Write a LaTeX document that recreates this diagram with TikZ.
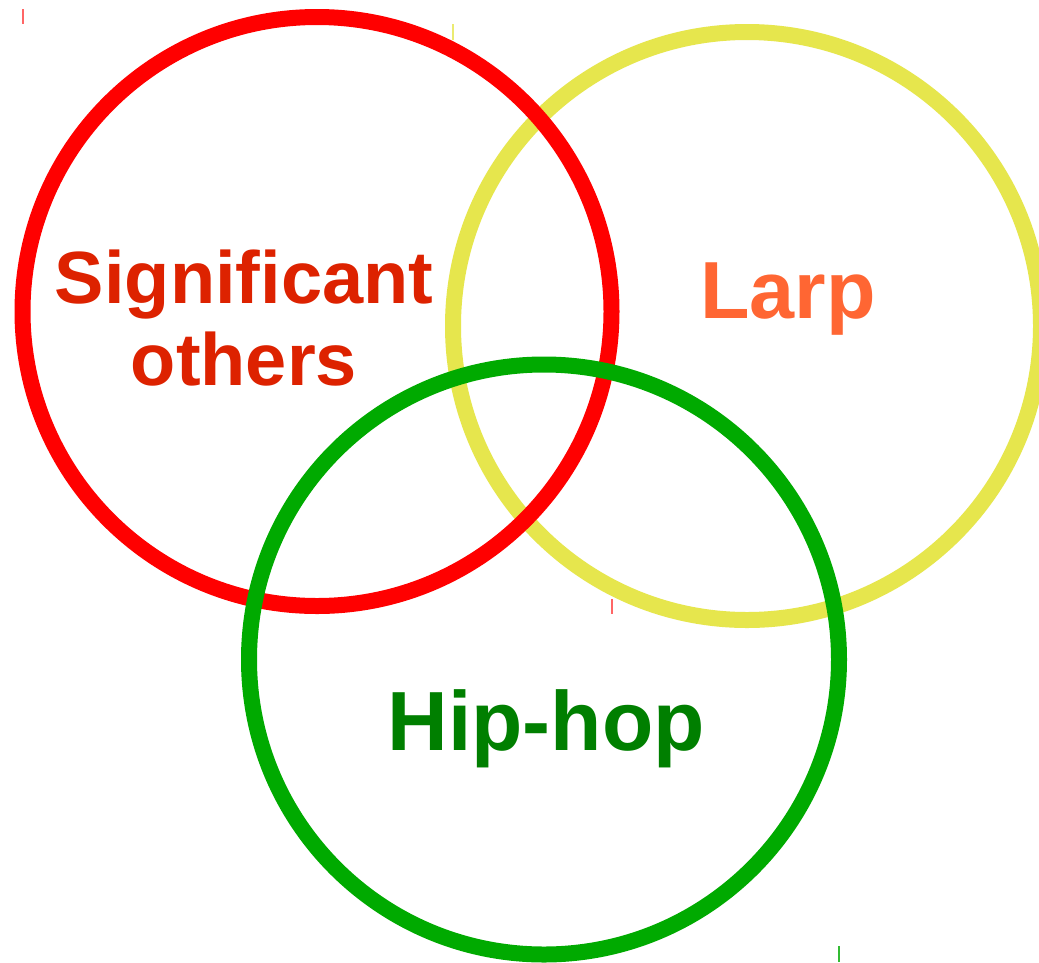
\documentclass[tikz,border=0pt]{standalone}
\usepackage{fontspec}
\setmainfont{Liberation Sans}
\definecolor{cred}{RGB}{255,0,0}
\definecolor{cyel}{RGB}{230,230,77}
\definecolor{cgrn}{RGB}{0,170,0}
\definecolor{tred}{RGB}{221,34,0}
\definecolor{tora}{RGB}{255,102,51}
\definecolor{tgrn}{RGB}{0,127,0}
\tikzset{
  ring/.style={line width=16pt},
  lbl/.style={inner sep=0pt, anchor=base, align=center},
  tick/.style={line width=2pt}
}
\begin{document}
\begin{tikzpicture}[x=1pt,y=-1pt]
\useasboundingbox (0,0) rectangle (1039,962);
\clip (0,0) rectangle (1039,962);
\fill[white] (0,0) rectangle (1039,962);
\draw[ring, cyel] (747,326) circle (294);
\draw[ring, cred] (317,311.5) circle (294.5);
\draw[ring, cgrn] (544,659.5) circle (295);
\draw[tick, cred!60] (23,9) -- (23,24);
\draw[tick, cyel!80] (453,24) -- (453,40);
\draw[tick, cred!60] (612,599) -- (612,614);
\draw[tick, cgrn!80] (839,946) -- (839,962);
\node[lbl, text=tred, font=\bfseries\fontsize{74}{82}\selectfont] (sig) at (244,385) {Significant\\others};
\node[lbl, text=tora, font=\bfseries\fontsize{81}{90}\selectfont] (larp) at (788,318) {Larp};
\node[lbl, text=tgrn, font=\bfseries\fontsize{84}{92}\selectfont] (hip) at (546,750) {Hip-hop};
\end{tikzpicture}
\end{document}
